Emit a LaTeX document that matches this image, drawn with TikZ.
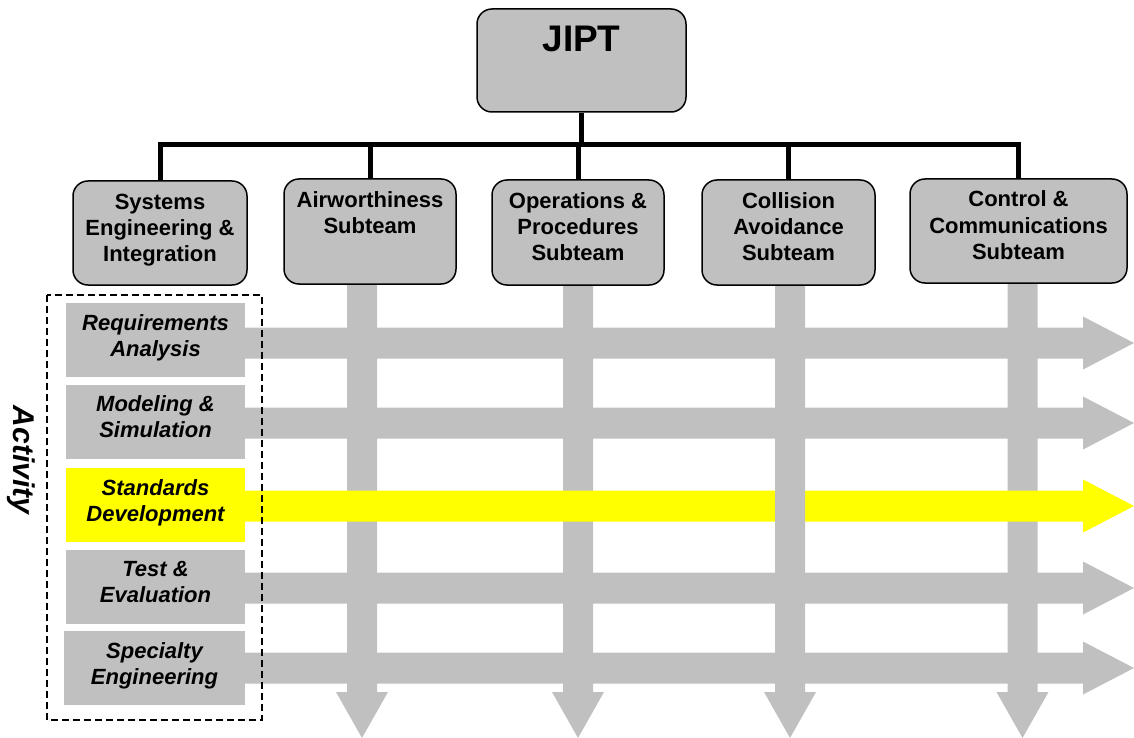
\documentclass[tikz,border=0pt]{standalone}
\usepackage{fontspec}
\setmainfont{Liberation Sans}
\usepackage{tikz}

\definecolor{boxgray}{HTML}{C0C0C0}
\definecolor{hilite}{HTML}{FFFF00}

\newcommand{\boxlines}[1]{\begin{tabular}[t]{@{}c@{}}#1\end{tabular}}
\newcommand{\vband}[2]{\fill[#2] (#1-15,250) -- (#1+15,250) -- (#1+15,692) -- (#1+26,692) -- (#1,738) -- (#1-26,692) -- (#1-15,692) -- cycle;}
\newcommand{\hband}[2]{\fill[#2] (240,#1-15.5) -- (1083,#1-15.5) -- (1083,#1-26.5) -- (1134,#1) -- (1083,#1+26.5) -- (1083,#1+15.5) -- (240,#1+15.5) -- cycle;}

\tikzset{
team/.style={shape=rectangle,rounded corners=15pt,draw=black,line width=1.5pt,fill=boxgray,inner sep=0pt,font=\fontsize{22}{26}\selectfont\bfseries,text height=16pt,text depth=64pt},
activity/.style={shape=rectangle,fill=boxgray,inner sep=0pt,minimum width=179pt,minimum height=74pt,font=\fontsize{22}{26}\selectfont\bfseries\itshape,text height=16pt,text depth=36pt},
bus/.style={line width=5pt}
}

\begin{document}
\begin{tikzpicture}[x=1pt,y=-1pt]
\useasboundingbox (0,0) rectangle (1134,738);

% activity rows and subteam columns
\hband{343}{boxgray}
\hband{423}{boxgray}
\hband{588}{boxgray}
\hband{668}{boxgray}
\vband{362}{boxgray}
\vband{578}{boxgray}
\vband{1022.5}{boxgray}
\hband{506}{hilite}
\vband{790}{boxgray}

\node[activity] (RA) at (155.5,340) {\boxlines{Requirements\\Analysis}};
\node[activity] (MS) at (155.5,421.5) {\boxlines{Modeling \&\\Simulation}};
\node[activity,fill=hilite] (SD) at (155.5,505) {\boxlines{Standards\\Development}};
\node[activity] (TE) at (155.5,586.5) {\boxlines{Test \&\\Evaluation}};
\node[activity,minimum width=181pt] (SP) at (154.5,668) {\boxlines{Specialty\\Engineering}};
\draw[line width=1.5pt,dash pattern=on 7pt off 4pt] (47,295) rectangle (262,720);
\node[rotate=-90,font=\fontsize{30}{36}\selectfont\bfseries\itshape] (ACT) at (21,460) {Activity};

\node[team,minimum width=209pt,minimum height=103pt,font=\fontsize{37}{44}\selectfont\bfseries,text height=27pt,text depth=44pt] (J) at (581.5,60.5) {JIPT};
\node[team,minimum width=174pt,minimum height=104pt] (SE) at (160,233) {\boxlines{Systems\\Engineering \&\\Integration}};
\node[team,minimum width=172pt,minimum height=105pt] (AW) at (370,231.5) {\boxlines{Airworthiness\\Subteam}};
\node[team,minimum width=172pt,minimum height=105pt] (OP) at (578,232.5) {\boxlines{Operations \&\\Procedures\\Subteam}};
\node[team,minimum width=173pt,minimum height=105pt] (CA) at (788.5,232.5) {\boxlines{Collision\\Avoidance\\Subteam}};
\node[team,minimum width=217pt,minimum height=104pt] (CC) at (1018.5,231) {\boxlines{Control \&\\Communications\\Subteam}};

\coordinate (bus) at (581.5,145);
\draw[bus] (J) -- (bus);
\draw[bus] (SE.north) |- (bus) -| (CC.north);
\draw[bus] (AW.north) -- (AW.north |- bus);
\draw[bus] (OP.north) -- (OP.north |- bus);
\draw[bus] (CA.north) -- (CA.north |- bus);
\end{tikzpicture}
\end{document}
